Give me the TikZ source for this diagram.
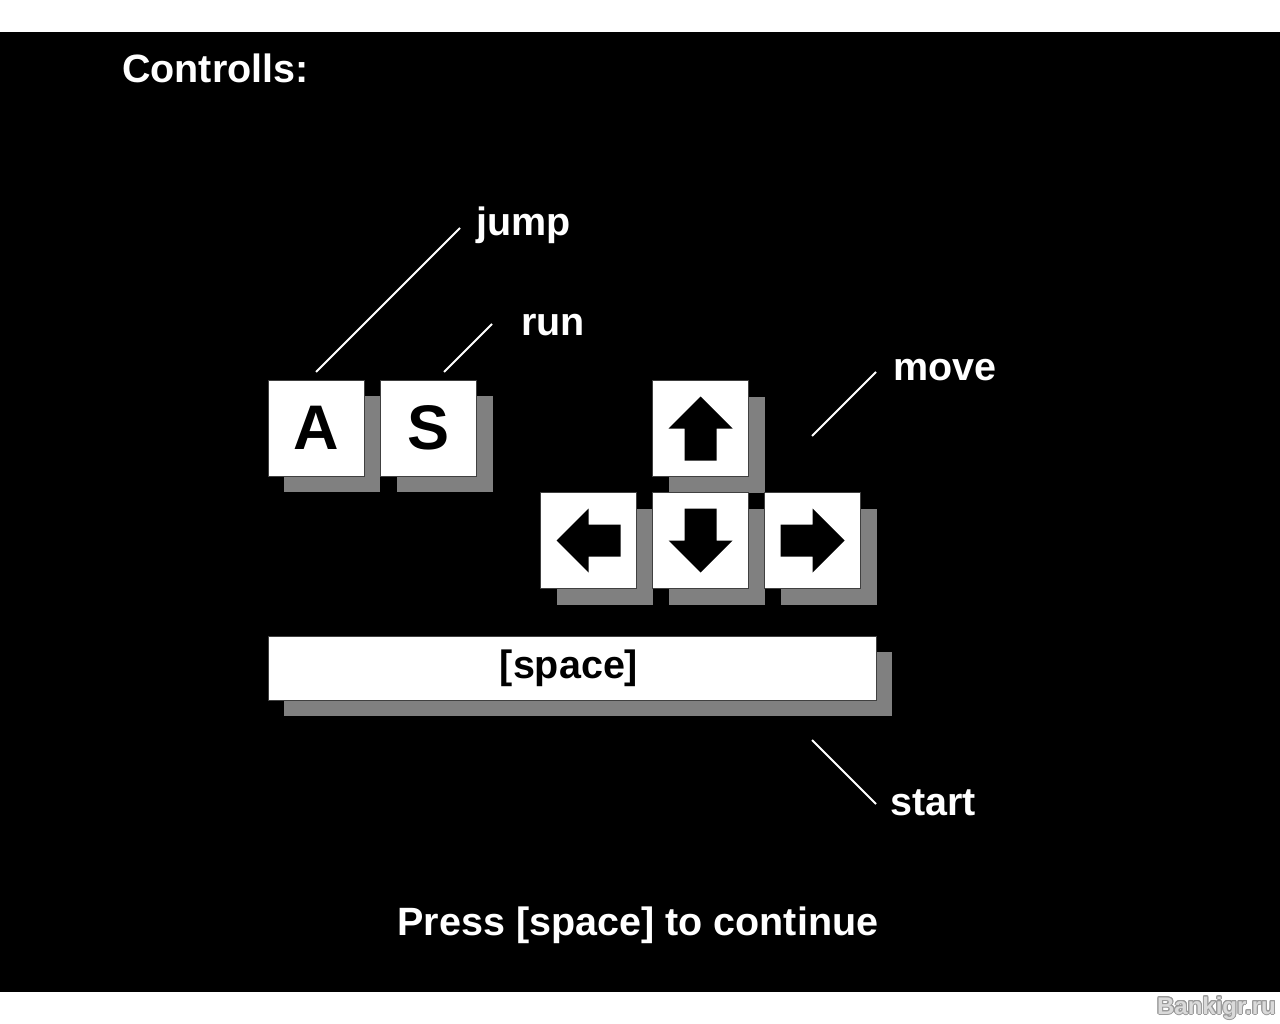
\documentclass[tikz,border=0pt]{standalone}
\usepackage{fontspec}
\setmainfont{Liberation Sans}
\usepackage[copies]{contour}
\contourlength{1pt}
\usetikzlibrary{shadows}
\definecolor{shadowgray}{HTML}{808080}
\definecolor{keyedge}{HTML}{404040}
\definecolor{wmfill}{HTML}{DADADA}
\definecolor{wmedge}{HTML}{9A9A9A}
\begin{document}
\begin{tikzpicture}[x=1pt,y=-1pt,
  keybox/.style={draw=keyedge, line width=1pt, fill=white, minimum size=96pt, inner sep=0pt,
    drop shadow={shadow xshift=16pt, shadow yshift=-16pt, fill=shadowgray, opacity=1},
    font=\fontsize{63}{63}\selectfont\bfseries},
  barbox/.style={draw=keyedge, line width=1pt, fill=white, minimum width=608pt, minimum height=64pt, inner sep=0pt,
    drop shadow={shadow xshift=16pt, shadow yshift=-16pt, fill=shadowgray, opacity=1}},
  lbl/.style={text=white, inner sep=0pt, font=\fontsize{39.5}{41}\selectfont\bfseries},
  leader/.style={draw=white, line width=2pt},
  arrowglyph/.pic={\fill[black] (0,-32) -- (32,0) -- (16,0) -- (16,32) -- (-16,32) -- (-16,0) -- (-32,0) -- cycle;},
  wm/.style={inner sep=0pt, font=\fontsize{24}{24}\selectfont\bfseries}
]
\useasboundingbox (0,0) rectangle (1280,1024);
\fill[white] (0,0) rectangle (1280,1024);
\fill[black] (0,32) rectangle (1280,992);

% title
\node[lbl, anchor=base west] (title) at (122,83) {Controlls:};

% keys
\node[keybox] (keyA) at (316,428) {A};
\node[keybox] (keyS) at (428.5,428) {S};
\node[keybox] (keyUp) at (700.5,428.5) {};
\node[keybox] (keyLeft) at (588.5,540.5) {};
\node[keybox] (keyDown) at (700.5,540.5) {};
\node[keybox] (keyRight) at (812.5,540.5) {};
\pic at (keyUp.center) {arrowglyph};
\pic[rotate=90] at (keyLeft.center) {arrowglyph};
\pic[rotate=180] at (keyDown.center) {arrowglyph};
\pic[rotate=-90] at (keyRight.center) {arrowglyph};

% space bar
\node[barbox] (bar) at (572,668) {};
\node[inner sep=0pt, anchor=base, font=\fontsize{39.5}{41}\selectfont\bfseries] (barlbl) at (569,678) {[space]};

% labels
\node[lbl, anchor=base west] (jump) at (476,236) {jump};
\node[lbl, anchor=base west] (run) at (521,335) {run};
\node[lbl, anchor=base west] (move) at (893,380) {move};
\node[lbl, anchor=base west] (start) at (890,815) {start};
\node[lbl, anchor=base] (press) at (638,935) {Press [space] to continue};

% leader lines
\coordinate (jumpA) at (316,372);
\coordinate (jumpB) at (460,228);
\coordinate (runA) at (444,372);
\coordinate (runB) at (492,324);
\coordinate (moveA) at (812,436);
\coordinate (moveB) at (876,372);
\coordinate (startA) at (812,740);
\coordinate (startB) at (876,804);
\draw[leader] (jumpA) -- (jumpB);
\draw[leader] (runA) -- (runB);
\draw[leader] (moveA) -- (moveB);
\draw[leader] (startA) -- (startB);

% watermark
\node[wm, anchor=base east] (wmark) at (1276,1014) {\contour{wmedge}{\textcolor{wmfill}{Bankigr.ru}}};
\end{tikzpicture}
\end{document}
